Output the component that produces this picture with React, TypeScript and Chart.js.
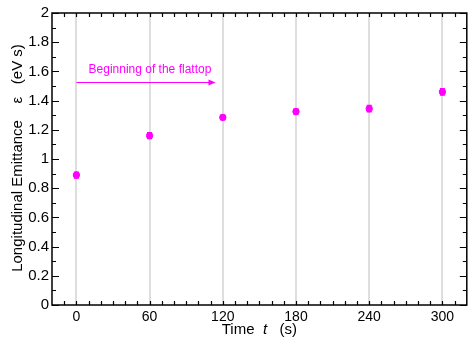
import React, { useEffect, useRef } from "react";
import { Chart, registerables } from "chart.js";

Chart.register(...registerables);

const times = [0, 60, 120, 180, 240, 300];
const emittance = [0.89, 1.16, 1.285, 1.325, 1.345, 1.46];
const errors = [0.02, 0.02, 0.015, 0.018, 0.022, 0.022];
const xMajorTicks = [0, 60, 120, 180, 240, 300];
const arrowStart = 0;
const arrowEnd = 114;
const arrowLevel = 1.53;
const arrowText = "Beginning of the flattop";
const magenta = "#ff00ff";
const FONT = "'Liberation Sans', Arial, Helvetica, sans-serif";

const framePlugin = {
  id: "framePlugin",
  afterDatasetsDraw(chart: any) {
    const ctx = chart.ctx;
    const xs = chart.scales.x;
    const ys = chart.scales.y;
    const { left, right, top, bottom } = chart.chartArea;
    ctx.save();
    // error bars
    ctx.strokeStyle = magenta;
    ctx.lineWidth = 1.5;
    times.forEach((t, i) => {
      const px = xs.getPixelForValue(t);
      const y1 = ys.getPixelForValue(emittance[i] - errors[i]);
      const y2 = ys.getPixelForValue(emittance[i] + errors[i]);
      ctx.beginPath();
      ctx.moveTo(px, y1);
      ctx.lineTo(px, y2);
      ctx.moveTo(px - 2.5, y1);
      ctx.lineTo(px + 2.5, y1);
      ctx.moveTo(px - 2.5, y2);
      ctx.lineTo(px + 2.5, y2);
      ctx.stroke();
    });
    // arrow
    const ax1 = xs.getPixelForValue(arrowStart);
    const ax2 = xs.getPixelForValue(arrowEnd);
    const ay = Math.round(ys.getPixelForValue(arrowLevel)) + 0.5;
    ctx.lineWidth = 1;
    ctx.beginPath();
    ctx.moveTo(ax1, ay);
    ctx.lineTo(ax2 - 4, ay);
    ctx.stroke();
    ctx.fillStyle = magenta;
    ctx.beginPath();
    ctx.moveTo(ax2, ay);
    ctx.lineTo(ax2 - 7, ay - 3);
    ctx.lineTo(ax2 - 7, ay + 3);
    ctx.closePath();
    ctx.fill();
    ctx.font = `12px ${FONT}`;
    ctx.textAlign = "center";
    ctx.textBaseline = "middle";
    ctx.fillText(arrowText, (ax1 + ax2) / 2 + 4, ay - 13);

    // frame
    ctx.strokeStyle = "#000";
    ctx.lineWidth = 1.5;
    ctx.strokeRect(left, top, right - left, bottom - top);
    // y ticks
    ctx.lineWidth = 1.2;
    for (let k = 0; k <= 20; k++) {
      const v = k / 10;
      const py = Math.round(ys.getPixelForValue(v)) + 0.5;
      const len = k % 2 === 0 ? 7 : 4;
      ctx.beginPath();
      ctx.moveTo(left, py);
      ctx.lineTo(left + len, py);
      ctx.moveTo(right, py);
      ctx.lineTo(right - len, py);
      ctx.stroke();
    }
    // x ticks
    for (let v = -10; v <= 310; v += 10) {
      const px = Math.round(xs.getPixelForValue(v)) + 0.5;
      ctx.beginPath();
      ctx.moveTo(px, bottom);
      ctx.lineTo(px, bottom - 4);
      ctx.moveTo(px, top);
      ctx.lineTo(px, top + 4);
      ctx.stroke();
    }
    // x title
    ctx.fillStyle = "#000";
    ctx.textBaseline = "middle";
    ctx.textAlign = "left";
    const cx = (left + right) / 2;
    const yT = 330;
    const parts: [string, string][] = [
      ["Time  ", `15px ${FONT}`],
      ["t", `italic 15px ${FONT}`],
      ["   (s)", `15px ${FONT}`],
    ];
    let total = 0;
    parts.forEach(([s, f]) => {
      ctx.font = f;
      total += ctx.measureText(s).width;
    });
    let xx = cx - total / 2;
    parts.forEach(([s, f]) => {
      ctx.font = f;
      ctx.fillText(s, xx, yT);
      xx += ctx.measureText(s).width;
    });
    // y title
    ctx.translate(18, 158);
    ctx.rotate(-Math.PI / 2);
    ctx.font = `15px ${FONT}`;
    ctx.textAlign = "center";
    ctx.fillText("Longitudinal Emittance    \u03B5   (eV s)", 0, 0);
    ctx.restore();
  },
};

export default function App() {
  const ref = useRef<HTMLCanvasElement | null>(null);
  useEffect(() => {
    if (!ref.current) return;
    const chart = new Chart(ref.current, {
      type: "scatter",
      data: {
        datasets: [
          {
            data: times.map((t, i) => ({ x: t, y: emittance[i] })),
            backgroundColor: magenta,
            borderColor: magenta,
            pointRadius: 3.2,
            pointHoverRadius: 3.2,
          },
        ],
      },
      options: {
        responsive: false,
        animation: false,
        events: [],
        layout: { padding: { left: 0, right: 2, top: 13, bottom: 0 } },
        plugins: { legend: { display: false }, tooltip: { enabled: false } },
        scales: {
          x: {
            type: "linear",
            min: -20,
            max: 320,
            afterBuildTicks: (s: any) => {
              s.ticks = xMajorTicks.map((v) => ({ value: v }));
            },
            afterFit: (s: any) => {
              s.height = 35;
            },
            grid: { color: "#dedede", lineWidth: 2, drawTicks: false },
            border: { display: false },
            ticks: {
              color: "#000",
              padding: 4,
              font: { family: FONT, size: 14 },
            },
          },
          y: {
            min: 0,
            max: 2,
            ticks: {
              stepSize: 0.2,
              color: "#000",
              padding: 3,
              font: { family: FONT, size: 15 },
              callback: (v: any) => String(Math.round(Number(v) * 10) / 10),
            },
            afterFit: (s: any) => {
              s.width = 52;
            },
            grid: { display: false, drawTicks: false },
            border: { display: false },
          },
        },
      },
      plugins: [framePlugin],
    });
    return () => chart.destroy();
  }, []);
  return (
    <div style={{ position: "fixed", left: 0, top: 0 }}>
      <canvas ref={ref} width={471} height={340} style={{ width: 471, height: 340, display: "block" }} />
    </div>
  );
}
